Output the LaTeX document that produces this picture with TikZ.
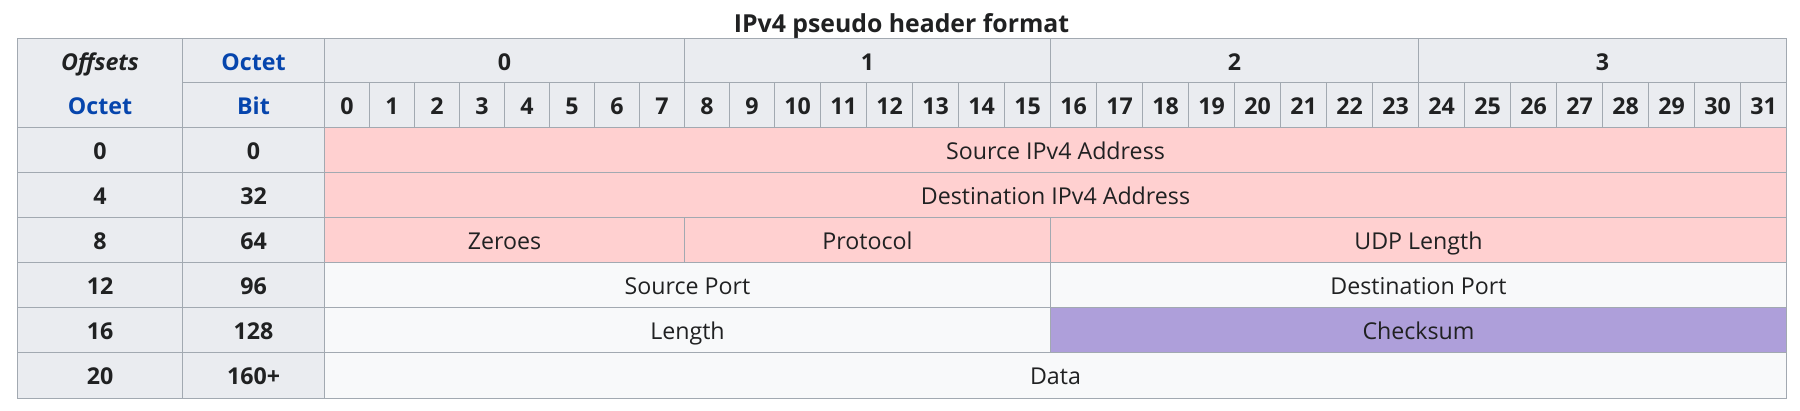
\documentclass[tikz,border=0pt]{standalone}
\usepackage{fontspec}
\setmainfont{Open Sans}
\usepackage{tikz}
\usetikzlibrary{positioning}
\definecolor{cinza}{HTML}{EAECF0}
\definecolor{borda}{HTML}{A2A9B1}
\definecolor{rosa}{HTML}{FFD0D0}
\definecolor{lilas}{HTML}{AE9FDA}
\definecolor{branco}{HTML}{F8F9FA}
\definecolor{texto}{HTML}{202122}
\definecolor{azul}{HTML}{0645AD}

\begin{document}
\begin{tikzpicture}[x=0.5pt, y=-0.5pt,
  declare function={bx(\i)=(\i<=10)*(324.5+45*\i)+(\i>10)*(774.5+46*(\i-10));},
  celula/.style={font=\fontsize{11.6}{13}\selectfont, text=texto, anchor=base, inner sep=0pt},
  cabec/.style={celula, font=\fontsize{11.6}{13}\selectfont\bfseries},
  link/.style={cabec, text=azul},
  grade/.style={draw=borda, line width=0.5pt}]
  \useasboundingbox (0,0) rectangle (1800,411);

  % Fundos
  \fill[cinza] (17.5,38.5) rectangle (1786.5,128);
  \fill[cinza] (17.5,128) rectangle (324.5,398.5);
  \fill[rosa] (324.5,128) rectangle (1786.5,263);
  \fill[branco] (324.5,263) rectangle (1786.5,398.5);
  \fill[lilas] ({bx(16)},308) rectangle (1786.5,353);

  % Grade
  \draw[grade] (17.5,38.5) rectangle (1786.5,398.5);
  \draw[grade] (182.5,83) -- (1786.5,83);
  \foreach \y in {128,173,218,263,308,353}
    \draw[grade] (17.5,\y) -- (1786.5,\y);
  \draw[grade] (182.5,38.5) -- (182.5,398.5);
  \draw[grade] (324.5,38.5) -- (324.5,398.5);
  \foreach \b in {8,16,24}
    \draw[grade] ({bx(\b)},38.5) -- ({bx(\b)},83);
  \foreach \b in {1,...,31}
    \draw[grade] ({bx(\b)},83) -- ({bx(\b)},128);
  \draw[grade] ({bx(8)},218) -- ({bx(8)},263);
  \draw[grade] ({bx(16)},218) -- ({bx(16)},353);

  % Titulo
  \node[cabec, font=\fontsize{12.4}{14}\selectfont\bfseries] (titulo) at (901.5,32.5) {IPv4 pseudo header format};

  % Cabecalho
  \node[cabec, font=\fontsize{11.6}{13}\selectfont\bfseries\itshape] (offsets) at (100,70.5) {Offsets};
  \node[link] (octetoA) at (253.5,70.5) {Octet};
  \node[link] (octetoB) at (100,115) {Octet};
  \node[link] (bits) at (253.5,115) {Bit};
  \foreach \o in {0,...,3}
    \node[cabec] (octeto\o) at ({(bx(8*\o)+bx(8*\o+8))/2},70.5) {\o};
  \foreach \b in {0,...,31}
    \node[cabec] (bit\b) at ({(bx(\b)+bx(\b+1))/2},115) {\b};

  % Deslocamentos
  \foreach \o/\p [count=\r from 0] in {0/0,4/32,8/64,12/96,16/128,20/160+} {
    \node[cabec] (off\r) at (100,{160+45*\r}) {\o};
    \node[cabec] (pos\r) at (253.5,{160+45*\r}) {\p};
  }

  % Campos
  \node[celula] (origem) at (1055.5,160) {Source IPv4 Address};
  \node[celula] (destino) at (1055.5,205) {Destination IPv4 Address};
  \node[celula] (zeros) at ({(bx(0)+bx(8))/2},250) {Zeroes};
  \node[celula] (protocolo) at ({(bx(8)+bx(16))/2},250) {Protocol};
  \node[celula] (udp) at ({(bx(16)+1786.5)/2},250) {UDP Length};
  \node[celula] (porta1) at ({(bx(0)+bx(16))/2},295) {Source Port};
  \node[celula] (porta2) at ({(bx(16)+1786.5)/2},295) {Destination Port};
  \node[celula] (tamanho) at ({(bx(0)+bx(16))/2},340) {Length};
  \node[celula] (soma) at ({(bx(16)+1786.5)/2},340) {Checksum};
  \node[celula] (dados) at (1055.5,385) {Data};
\end{tikzpicture}
\end{document}
